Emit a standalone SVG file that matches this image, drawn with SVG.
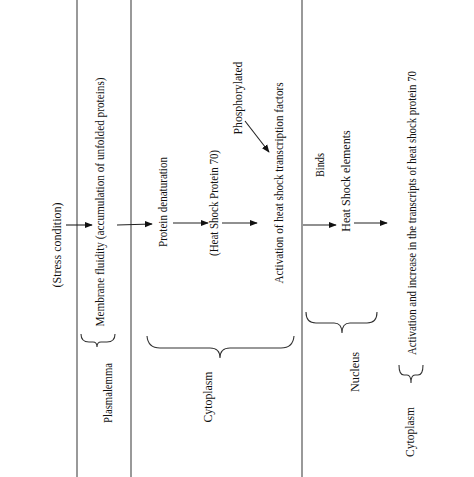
<svg xmlns="http://www.w3.org/2000/svg" width="474" height="477" viewBox="0 0 474 477">
<style>
text{font-family:"Liberation Serif","Times New Roman",serif;font-size:12px;fill:#111;text-anchor:middle}
.sep{stroke:#555;stroke-width:1.2;fill:none}
.arr{stroke:#222;stroke-width:1.1;fill:none;marker-end:url(#ah)}
.brace{stroke:#333;stroke-width:1.1;fill:none}
</style>
<defs>
<marker id="ah" viewBox="0 0 10 10" refX="9" refY="5" markerWidth="8" markerHeight="8" orient="auto" markerUnits="userSpaceOnUse">
<path d="M0,1 L10,5 L0,9 z" fill="#111"/>
</marker>
</defs>
<rect width="474" height="477" fill="#fff"/>
<g id="separators">
<line class="sep" x1="77" y1="0" x2="77" y2="477"/>
<line class="sep" x1="131" y1="0" x2="131" y2="477"/>
<line class="sep" x1="302" y1="0" x2="302" y2="477"/>
</g>
<g id="connectors">
<line class="arr" x1="66" y1="225" x2="92" y2="225"/>
<line class="arr" x1="117" y1="225" x2="152" y2="224"/>
<line class="arr" x1="173" y1="223" x2="208" y2="223"/>
<line class="arr" x1="222" y1="223" x2="257" y2="223"/>
<line class="arr" x1="245" y1="121" x2="269" y2="152"/>
<line class="arr" x1="303" y1="225" x2="336" y2="225"/>
<line class="arr" x1="354" y1="223" x2="387" y2="223"/>
</g>
<g id="braces">
<path class="brace" d="M81,334 Q81,342 89,342 L93,342 Q97,342 97,347 Q97,342 101,342 L107,342 Q115,342 115,334"/>
<path class="brace" d="M147,336 Q148,348 160,348 L210,348 Q220,348 220,358 Q220,348 230,348 L281,348 Q293,348 294,336"/>
<path class="brace" d="M306,312 Q306,323 316,323 L334,323 Q342,323 342,333 Q342,323 350,323 L367,323 Q377,323 377,312"/>
<path class="brace" d="M399,365 Q399,375 404,375 L407,375 Q411,375 411,383 Q411,375 415,375 L418,375 Q423,375 423,365"/>
</g>
<g id="stress"><text transform="translate(61,245) rotate(-90)" textLength="85" lengthAdjust="spacingAndGlyphs">(Stress condition)</text></g>
<g id="membrane"><text transform="translate(104,202) rotate(-90)" textLength="249" lengthAdjust="spacingAndGlyphs">Membrane fluidity (accumulation of unfolded proteins)</text></g>
<g id="plasmalemma"><text transform="translate(112,393) rotate(-90)" textLength="60" lengthAdjust="spacingAndGlyphs">Plasmalemma</text></g>
<g id="denaturation"><text transform="translate(167,202) rotate(-90)" textLength="90" lengthAdjust="spacingAndGlyphs">Protein denaturation</text></g>
<g id="hsp70"><text transform="translate(218,203) rotate(-90)" textLength="106" lengthAdjust="spacingAndGlyphs">(Heat Shock Protein 70)</text></g>
<g id="activation-hsf"><text transform="translate(283,183) rotate(-90)" textLength="201" lengthAdjust="spacingAndGlyphs">Activation of heat shock transcription factors</text></g>
<g id="phosphorylated"><text transform="translate(242,98) rotate(-90)" textLength="73" lengthAdjust="spacingAndGlyphs">Phosphorylated</text></g>
<g id="cytoplasm1"><text transform="translate(212,397) rotate(-90)" textLength="51" lengthAdjust="spacingAndGlyphs">Cytoplasm</text></g>
<g id="binds"><text transform="translate(324,165) rotate(-90)" textLength="24" lengthAdjust="spacingAndGlyphs">Binds</text></g>
<g id="hse"><text transform="translate(350,181) rotate(-90)">Heat Shock elements</text></g>
<g id="nucleus"><text transform="translate(359,372) rotate(-90)" textLength="40" lengthAdjust="spacingAndGlyphs">Nucleus</text></g>
<g id="activation-transcripts"><text transform="translate(416,213) rotate(-90)" textLength="284" lengthAdjust="spacingAndGlyphs">Activation and increase in the transcripts of heat shock protein 70</text></g>
<g id="cytoplasm2"><text transform="translate(414,432) rotate(-90)" textLength="50" lengthAdjust="spacingAndGlyphs">Cytoplasm</text></g>
</svg>
